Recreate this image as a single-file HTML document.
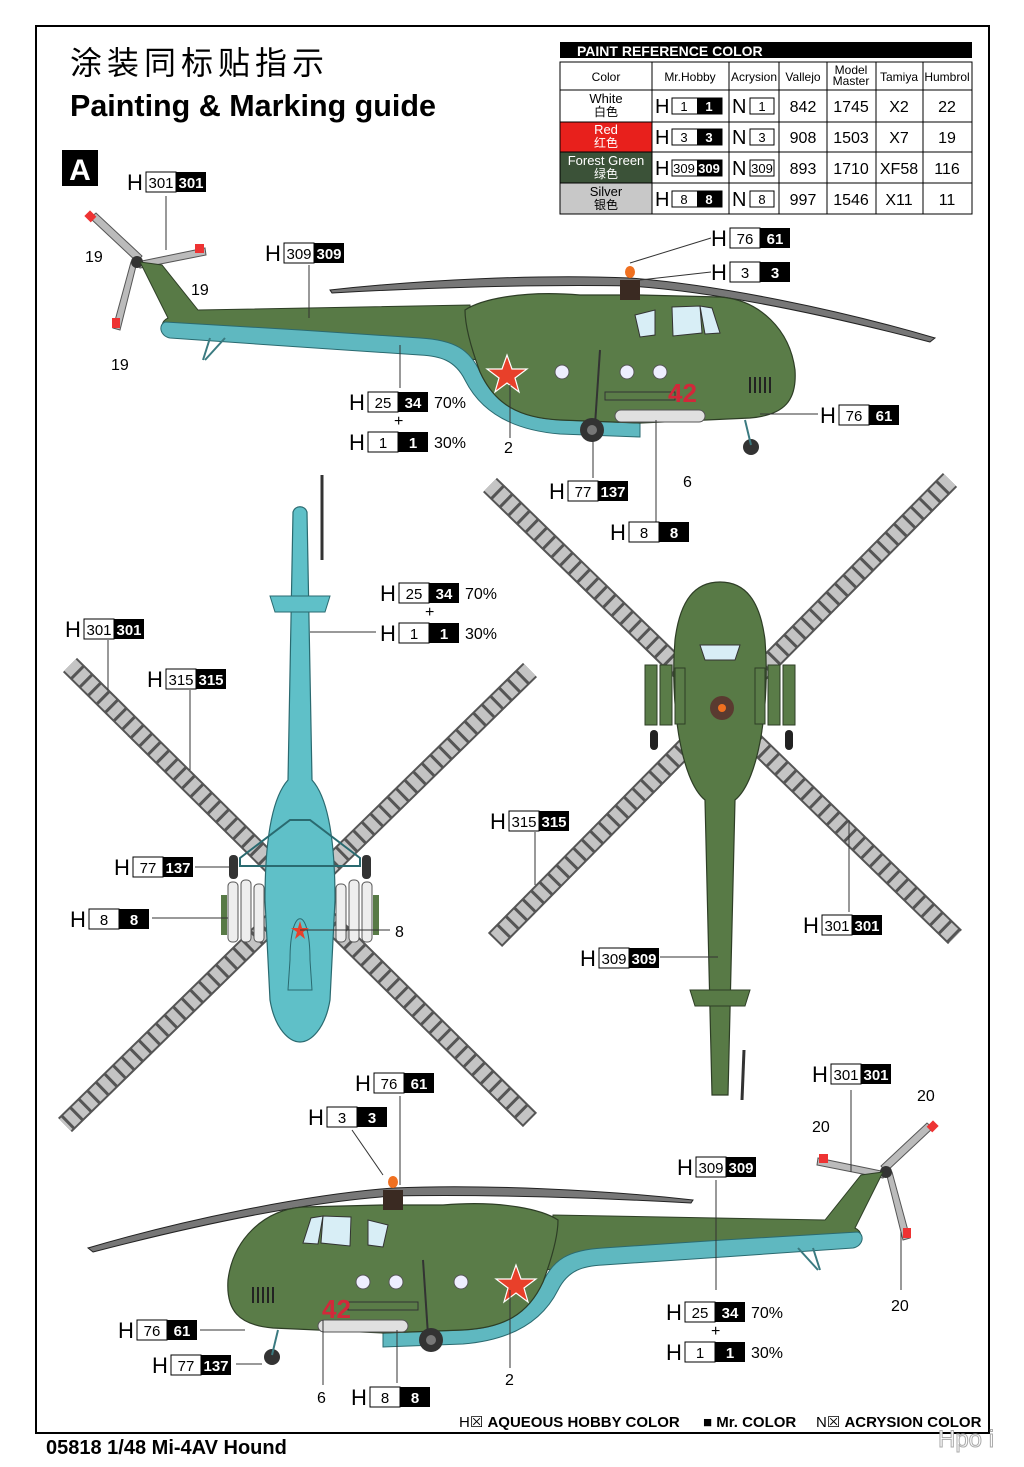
<!DOCTYPE html>
<html><head><meta charset="utf-8">
<style>
html,body{margin:0;padding:0;background:#fff;}
svg{display:block;font-family:"Liberation Sans","Noto Sans CJK SC",sans-serif;}
.H{font-size:22px;}
.n{font-size:15px;text-anchor:middle;}
.nb{font-size:15px;text-anchor:middle;fill:#fff;font-weight:bold;}
.t{font-size:16px;}
.ld{stroke:#333;stroke-width:1;fill:none;}
</style></head><body>
<svg width="1024" height="1467" viewBox="0 0 1024 1467" xmlns="http://www.w3.org/2000/svg">
<defs>
<g id="sideheli">
  <path d="M330,290 C420,280 540,274 630,278 C720,285 840,310 935,338 L930,342 C830,316 720,292 630,286 C540,284 420,288 332,293 Z" fill="#777" stroke="#222" stroke-width="1"/>
  <path d="M137,262 L90,218 L96,213 L142,256 Z" fill="#bbb" stroke="#555"/>
  <path d="M137,262 L205,248 L206,255 L140,268 Z" fill="#bbb" stroke="#555"/>
  <path d="M137,262 L120,330 L113,328 L131,262 Z" fill="#bbb" stroke="#555"/>
  <rect x="86" y="212" width="9" height="8" fill="#e33" transform="rotate(45 90 216)"/>
  <rect x="195" y="244" width="9" height="9" fill="#e33"/>
  <rect x="112" y="318" width="8" height="10" fill="#e33"/>
  <circle cx="137" cy="262" r="6" fill="#333"/>
  <path d="M140,262 L162,265 L198,310 L470,305 L478,360 L420,352 L300,342 L170,335 C160,330 160,322 168,318 Z" fill="#587a46" stroke="#2e3e26" stroke-width="1"/>
  <path d="M165,322 L300,330 L420,338 C455,340 470,350 480,372 C495,405 520,418 560,420 L640,423 L640,437 L560,434 C510,430 480,410 465,380 C455,360 440,356 420,355 L300,347 L170,338 C160,336 158,325 165,322 Z" fill="#5fb8c0" stroke="#2a6a70" stroke-width="1"/>
  <path d="M465,310 C480,300 520,290 580,295 L640,295 L720,297 C760,300 790,330 795,370 C797,400 785,415 750,418 L640,423 L560,420 C520,418 495,405 480,372 C470,345 465,325 465,310 Z" fill="#5a7c48" stroke="#2e3e26" stroke-width="1.2"/>
  <path d="M635,315 L655,310 L655,335 L640,337 Z" fill="#d8eef6" stroke="#333"/>
  <path d="M672,307 L700,306 L702,333 L673,336 Z" fill="#d8eef6" stroke="#333"/>
  <path d="M700,306 L712,308 L720,333 L705,334 Z" fill="#d8eef6" stroke="#333"/>
  <g stroke="#222" stroke-width="2"><line x1="750" y1="377" x2="750" y2="393"/><line x1="755" y1="377" x2="755" y2="393"/><line x1="760" y1="377" x2="760" y2="393"/><line x1="765" y1="377" x2="765" y2="393"/><line x1="770" y1="377" x2="770" y2="393"/></g>
  <circle cx="562" cy="372" r="7" fill="#eef" stroke="#555"/>
  <circle cx="627" cy="372" r="7" fill="#eef" stroke="#555"/>
  <circle cx="660" cy="372" r="7" fill="#eef" stroke="#555"/>
  <polygon points="507,355 512,369 527,369 515,378 519,392 507,383 495,392 499,378 487,369 502,369" fill="#e8402a" stroke="#fff" stroke-width="1.2"/>
  <rect x="615" y="410" width="90" height="12" rx="6" fill="#e0e0e0" stroke="#555"/>
  <rect x="605" y="392" width="70" height="8" fill="#5a7c48" stroke="#333"/>
  <line x1="600" y1="350" x2="595" y2="425" stroke="#333" stroke-width="2"/>
  <circle cx="592" cy="430" r="12" fill="#333"/><circle cx="592" cy="430" r="5" fill="#777"/>
  <circle cx="751" cy="447" r="8" fill="#333"/>
  <line x1="745" y1="420" x2="751" y2="445" stroke="#3a7a80" stroke-width="2"/>
  <line x1="210" y1="338" x2="203" y2="360" stroke="#3a7a80" stroke-width="2"/>
  <line x1="225" y1="338" x2="205" y2="360" stroke="#3a7a80" stroke-width="2"/>
  <rect x="620" y="280" width="20" height="20" fill="#3a2a22"/>
  <ellipse cx="630" cy="272" rx="5" ry="6" fill="#f07020"/>
</g>
</defs>
<rect width="1024" height="1467" fill="#fff"/>
<rect x="36" y="26" width="953" height="1407" fill="none" stroke="#000" stroke-width="2"/>

<text x="70" y="74" font-size="32" letter-spacing="5">涂装同标贴指示</text>
<text x="70" y="116" font-size="31" font-weight="bold" textLength="366" lengthAdjust="spacingAndGlyphs">Painting &amp; Marking guide</text>
<rect x="62" y="150" width="36" height="36" fill="#000"/>
<text x="80" y="180" font-size="30" font-weight="bold" fill="#fff" text-anchor="middle">A</text>

<rect x="560" y="42" width="412" height="16" fill="#000"/>
<text x="577" y="56" font-size="14" font-weight="bold" fill="#fff">PAINT  REFERENCE COLOR</text>
<rect x="560" y="122" width="92" height="30" fill="#e8201c"/>
<rect x="560" y="152" width="92" height="31" fill="#3b5238"/>
<rect x="560" y="183" width="92" height="31" fill="#c8c8c8"/>
<g stroke="#000" stroke-width="1" fill="none">
<rect x="560" y="62" width="412" height="152"/>
<line x1="560" y1="90" x2="972" y2="90"/><line x1="560" y1="122" x2="972" y2="122"/><line x1="560" y1="152" x2="972" y2="152"/><line x1="560" y1="183" x2="972" y2="183"/>
<line x1="652" y1="62" x2="652" y2="214"/><line x1="729" y1="62" x2="729" y2="214"/><line x1="779" y1="62" x2="779" y2="214"/><line x1="827" y1="62" x2="827" y2="214"/><line x1="876" y1="62" x2="876" y2="214"/><line x1="923" y1="62" x2="923" y2="214"/>
</g>
<g font-size="12" text-anchor="middle">
<text x="606" y="81">Color</text><text x="690" y="81">Mr.Hobby</text><text x="754" y="81">Acrysion</text><text x="803" y="81">Vallejo</text><text x="851" y="74">Model</text><text x="851" y="85">Master</text><text x="899" y="81">Tamiya</text><text x="947" y="81">Humbrol</text>
<text x="606" y="103" font-size="13">White</text><text x="606" y="116">白色</text>
<text x="606" y="134" font-size="13" fill="#fff">Red</text><text x="606" y="147" fill="#fff">红色</text>
<text x="606" y="165" font-size="13" fill="#fff">Forest Green</text><text x="606" y="178" fill="#fff">绿色</text>
<text x="606" y="196" font-size="13">Silver</text><text x="606" y="209">银色</text>
</g>
<g font-size="16" text-anchor="middle">
<text x="803" y="112">842</text><text x="851" y="112">1745</text><text x="899" y="112">X2</text><text x="947" y="112">22</text>
<text x="803" y="143">908</text><text x="851" y="143">1503</text><text x="899" y="143">X7</text><text x="947" y="143">19</text>
<text x="803" y="174">893</text><text x="851" y="174">1710</text><text x="899" y="174">XF58</text><text x="947" y="174">116</text>
<text x="803" y="205">997</text><text x="851" y="205">1546</text><text x="899" y="205">X11</text><text x="947" y="205">11</text>
</g>
<g font-size="20">
<text x="655" y="113">H</text><text x="655" y="144">H</text><text x="655" y="175">H</text><text x="655" y="206">H</text>
<text x="732" y="113">N</text><text x="732" y="144">N</text><text x="732" y="175">N</text><text x="732" y="206">N</text>
</g>
<g stroke="#000" fill="#fff">
<rect x="672" y="98" width="50" height="16"/><rect x="672" y="129" width="50" height="16"/><rect x="672" y="160" width="50" height="16"/><rect x="672" y="191" width="50" height="16"/>
<rect x="750" y="98" width="24" height="16"/><rect x="750" y="129" width="24" height="16"/><rect x="750" y="160" width="24" height="16"/><rect x="750" y="191" width="24" height="16"/>
</g>
<g fill="#000"><rect x="697" y="98" width="25" height="16"/><rect x="697" y="129" width="25" height="16"/><rect x="697" y="160" width="25" height="16"/><rect x="697" y="191" width="25" height="16"/></g>
<g font-size="13" text-anchor="middle">
<text x="684" y="111">1</text><text x="684" y="142">3</text><text x="684" y="173">309</text><text x="684" y="204">8</text>
<text x="762" y="111">1</text><text x="762" y="142">3</text><text x="762" y="173">309</text><text x="762" y="204">8</text>
<g fill="#fff" font-weight="bold"><text x="709" y="111">1</text><text x="709" y="142">3</text><text x="709" y="173">309</text><text x="709" y="204">8</text></g>
</g>

<use href="#sideheli"/>
<text x="668" y="402" font-size="26" fill="#d2283a" font-weight="bold">42</text>
<use href="#sideheli" transform="translate(1023,910) scale(-1,1)"/>
<text x="322" y="1318" font-size="26" fill="#d2283a" font-weight="bold">42</text>

<g stroke-linecap="butt">
<line x1="70" y1="665" x2="530" y2="1120" stroke="#555" stroke-width="20"/>
<line x1="70" y1="665" x2="530" y2="1120" stroke="#c4c4c4" stroke-width="16" stroke-dasharray="9 3"/>
<line x1="530" y1="670" x2="65" y2="1125" stroke="#555" stroke-width="20"/>
<line x1="530" y1="670" x2="65" y2="1125" stroke="#c4c4c4" stroke-width="16" stroke-dasharray="9 3"/>
<line x1="490" y1="485" x2="955" y2="937" stroke="#555" stroke-width="20"/>
<line x1="490" y1="485" x2="955" y2="937" stroke="#c4c4c4" stroke-width="16" stroke-dasharray="9 3"/>
<line x1="950" y1="480" x2="495" y2="940" stroke="#555" stroke-width="20"/>
<line x1="950" y1="480" x2="495" y2="940" stroke="#c4c4c4" stroke-width="16" stroke-dasharray="9 3"/>
</g>
<line x1="322" y1="475" x2="322" y2="560" stroke="#333" stroke-width="3"/>
<path d="M293,512 C295,505 305,505 307,512 L312,780 C330,800 335,850 335,900 L330,1000 C325,1030 310,1042 300,1042 C290,1042 275,1030 270,1000 L265,900 C265,850 270,800 288,780 Z" fill="#5fc0c8" stroke="#2a6a70" stroke-width="1.2"/>
<path d="M270,596 L330,596 L325,612 L275,612 Z" fill="#5fc0c8" stroke="#2a6a70"/>
<path d="M240,858 L290,820 L310,820 L360,858 L360,866 L240,866 Z" fill="none" stroke="#2a6a70" stroke-width="2"/>
<rect x="229" y="855" width="9" height="24" rx="4" fill="#333"/><rect x="362" y="855" width="9" height="24" rx="4" fill="#333"/>
<g fill="#eee" stroke="#555">
<rect x="228" y="882" width="10" height="60" rx="4"/><rect x="241" y="880" width="10" height="62" rx="4"/><rect x="254" y="884" width="10" height="58" rx="4"/>
<rect x="336" y="884" width="10" height="58" rx="4"/><rect x="349" y="880" width="10" height="62" rx="4"/><rect x="362" y="882" width="10" height="60" rx="4"/>
</g>
<rect x="221" y="895" width="6" height="40" fill="#587a46"/><rect x="373" y="895" width="6" height="40" fill="#587a46"/>
<path d="M290,960 C290,905 310,905 310,960 L312,990 L288,990 Z" fill="none" stroke="#2a6a70"/>
<polygon points="300,921 302,928 309,928 303,932 305,939 300,935 295,939 297,932 291,928 298,928" fill="#e8402a"/>

<path d="M712,1095 L728,1095 L735,800 C760,780 770,700 765,640 C760,600 745,582 720,582 C695,582 680,600 675,640 C670,700 680,780 705,800 Z" fill="#587a46" stroke="#2e3e26" stroke-width="1.2"/>
<path d="M690,990 L750,990 L745,1006 L695,1006 Z" fill="#587a46" stroke="#2e3e26"/>
<line x1="744" y1="1050" x2="742" y2="1100" stroke="#333" stroke-width="3"/>
<g fill="#5a7c48" stroke="#2e3e26">
<rect x="645" y="665" width="12" height="60"/><rect x="660" y="665" width="12" height="60"/><rect x="675" y="668" width="10" height="56"/>
<rect x="755" y="668" width="10" height="56"/><rect x="768" y="665" width="12" height="60"/><rect x="783" y="665" width="12" height="60"/>
</g>
<path d="M700,645 L740,645 L735,660 L705,660 Z" fill="#d8eef6" stroke="#333"/>
<rect x="650" y="730" width="8" height="20" rx="4" fill="#222"/><rect x="785" y="730" width="8" height="20" rx="4" fill="#222"/>
<circle cx="722" cy="708" r="12" fill="#5a3a30"/><circle cx="722" cy="708" r="4" fill="#f07020"/>

<g class="ld">
<line x1="166" y1="196" x2="166" y2="250"/>
<line x1="309" y1="265" x2="309" y2="318"/>
<line x1="400" y1="345" x2="400" y2="388"/>
<line x1="510" y1="385" x2="510" y2="438"/>
<line x1="630" y1="263" x2="711" y2="238"/><line x1="640" y1="280" x2="711" y2="272"/>
<line x1="760" y1="414" x2="818" y2="414"/>
<line x1="593" y1="440" x2="593" y2="478"/>
<line x1="656" y1="420" x2="656" y2="522"/>
<line x1="310" y1="632" x2="376" y2="632"/>
<line x1="108" y1="640" x2="108" y2="690"/>
<line x1="190" y1="690" x2="190" y2="770"/>
<line x1="195" y1="867" x2="232" y2="867"/>
<line x1="152" y1="918" x2="228" y2="918"/>
<line x1="300" y1="930" x2="390" y2="930"/>
<line x1="535" y1="832" x2="535" y2="885"/>
<line x1="849" y1="820" x2="849" y2="912"/>
<line x1="660" y1="957" x2="718" y2="957"/>
<line x1="400" y1="1096" x2="400" y2="1185"/><line x1="352" y1="1130" x2="383" y2="1175"/>
<line x1="851" y1="1090" x2="851" y2="1172"/>
<line x1="716" y1="1180" x2="716" y2="1290"/>
<line x1="200" y1="1330" x2="245" y2="1330"/>
<line x1="236" y1="1364" x2="262" y2="1364"/>
<line x1="397" y1="1330" x2="397" y2="1383"/>
<line x1="323" y1="1320" x2="323" y2="1385"/>
<line x1="510" y1="1290" x2="510" y2="1368"/>
<line x1="901" y1="1232" x2="901" y2="1290"/>
</g>

<g class="t">
<text x="85" y="262">19</text><text x="191" y="295">19</text><text x="111" y="370">19</text>
<text x="504" y="453">2</text><text x="683" y="487">6</text><text x="395" y="937">8</text>
<text x="917" y="1101">20</text><text x="812" y="1132">20</text><text x="891" y="1311">20</text>
<text x="317" y="1403">6</text><text x="505" y="1385">2</text>
</g>

<defs>
<g id="b"><rect x="19" y="-18" width="30" height="20" fill="#fff" stroke="#000"/><rect x="49" y="-18" width="30" height="20" fill="#000"/></g>
</defs>
<g class="H">
<g transform="translate(127,190)"><text>H</text><use href="#b"/><text x="34" y="-2" class="n">301</text><text x="64" y="-2" class="nb">301</text></g>
<g transform="translate(265,261)"><text>H</text><use href="#b"/><text x="34" y="-2" class="n">309</text><text x="64" y="-2" class="nb">309</text></g>
<g transform="translate(349,410)"><text>H</text><use href="#b"/><text x="34" y="-2" class="n">25</text><text x="64" y="-2" class="nb">34</text><text x="85" y="-2" class="t">70%</text></g>
<text x="394" y="426" class="t">+</text>
<g transform="translate(349,450)"><text>H</text><use href="#b"/><text x="34" y="-2" class="n">1</text><text x="64" y="-2" class="nb">1</text><text x="85" y="-2" class="t">30%</text></g>
<g transform="translate(711,246)"><text>H</text><use href="#b"/><text x="34" y="-2" class="n">76</text><text x="64" y="-2" class="nb">61</text></g>
<g transform="translate(711,280)"><text>H</text><use href="#b"/><text x="34" y="-2" class="n">3</text><text x="64" y="-2" class="nb">3</text></g>
<g transform="translate(820,423)"><text>H</text><use href="#b"/><text x="34" y="-2" class="n">76</text><text x="64" y="-2" class="nb">61</text></g>
<g transform="translate(549,499)"><text>H</text><use href="#b"/><text x="34" y="-2" class="n">77</text><text x="64" y="-2" class="nb">137</text></g>
<g transform="translate(610,540)"><text>H</text><use href="#b"/><text x="34" y="-2" class="n">8</text><text x="64" y="-2" class="nb">8</text></g>
<g transform="translate(380,601)"><text>H</text><use href="#b"/><text x="34" y="-2" class="n">25</text><text x="64" y="-2" class="nb">34</text><text x="85" y="-2" class="t">70%</text></g>
<text x="425" y="617" class="t">+</text>
<g transform="translate(380,641)"><text>H</text><use href="#b"/><text x="34" y="-2" class="n">1</text><text x="64" y="-2" class="nb">1</text><text x="85" y="-2" class="t">30%</text></g>
<g transform="translate(65,637)"><text>H</text><use href="#b"/><text x="34" y="-2" class="n">301</text><text x="64" y="-2" class="nb">301</text></g>
<g transform="translate(147,687)"><text>H</text><use href="#b"/><text x="34" y="-2" class="n">315</text><text x="64" y="-2" class="nb">315</text></g>
<g transform="translate(114,875)"><text>H</text><use href="#b"/><text x="34" y="-2" class="n">77</text><text x="64" y="-2" class="nb">137</text></g>
<g transform="translate(70,927)"><text>H</text><use href="#b"/><text x="34" y="-2" class="n">8</text><text x="64" y="-2" class="nb">8</text></g>
<g transform="translate(490,829)"><text>H</text><use href="#b"/><text x="34" y="-2" class="n">315</text><text x="64" y="-2" class="nb">315</text></g>
<g transform="translate(803,933)"><text>H</text><use href="#b"/><text x="34" y="-2" class="n">301</text><text x="64" y="-2" class="nb">301</text></g>
<g transform="translate(580,966)"><text>H</text><use href="#b"/><text x="34" y="-2" class="n">309</text><text x="64" y="-2" class="nb">309</text></g>
<g transform="translate(355,1091)"><text>H</text><use href="#b"/><text x="34" y="-2" class="n">76</text><text x="64" y="-2" class="nb">61</text></g>
<g transform="translate(308,1125)"><text>H</text><use href="#b"/><text x="34" y="-2" class="n">3</text><text x="64" y="-2" class="nb">3</text></g>
<g transform="translate(812,1082)"><text>H</text><use href="#b"/><text x="34" y="-2" class="n">301</text><text x="64" y="-2" class="nb">301</text></g>
<g transform="translate(677,1175)"><text>H</text><use href="#b"/><text x="34" y="-2" class="n">309</text><text x="64" y="-2" class="nb">309</text></g>
<g transform="translate(666,1320)"><text>H</text><use href="#b"/><text x="34" y="-2" class="n">25</text><text x="64" y="-2" class="nb">34</text><text x="85" y="-2" class="t">70%</text></g>
<text x="711" y="1336" class="t">+</text>
<g transform="translate(666,1360)"><text>H</text><use href="#b"/><text x="34" y="-2" class="n">1</text><text x="64" y="-2" class="nb">1</text><text x="85" y="-2" class="t">30%</text></g>
<g transform="translate(118,1338)"><text>H</text><use href="#b"/><text x="34" y="-2" class="n">76</text><text x="64" y="-2" class="nb">61</text></g>
<g transform="translate(152,1373)"><text>H</text><use href="#b"/><text x="34" y="-2" class="n">77</text><text x="64" y="-2" class="nb">137</text></g>
<g transform="translate(351,1405)"><text>H</text><use href="#b"/><text x="34" y="-2" class="n">8</text><text x="64" y="-2" class="nb">8</text></g>
</g>

<text x="459" y="1427" font-size="15">H☒ <tspan font-weight="bold">AQUEOUS HOBBY COLOR</tspan></text>
<text x="703" y="1427" font-size="15" font-weight="bold">■ Mr. COLOR</text>
<text x="816" y="1427" font-size="15">N☒ <tspan font-weight="bold">ACRYSION COLOR</tspan></text>
<text x="46" y="1454" font-size="20" font-weight="bold">05818 1/48  Mi-4AV Hound</text>
<text x="938" y="1447" font-size="24" fill="#fff" stroke="#aaa" stroke-width="1">Hpo i</text>
</svg>
</body></html>
